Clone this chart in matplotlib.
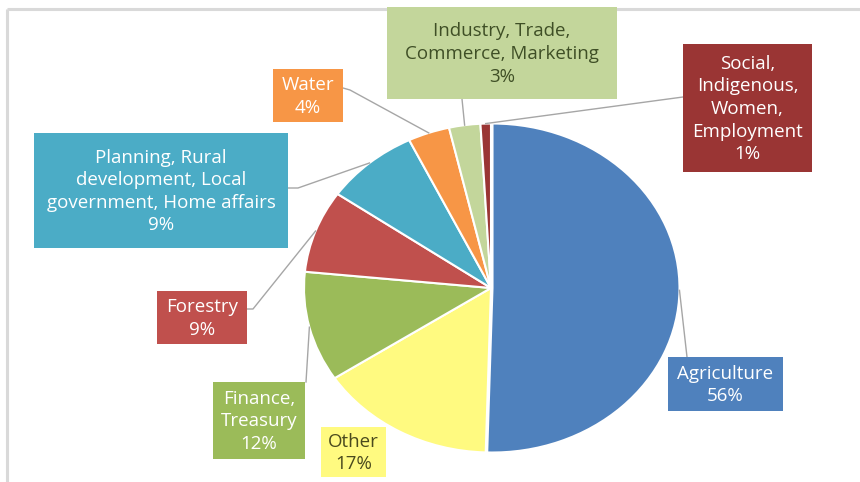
import math
import matplotlib
matplotlib.use("Agg")
import matplotlib.pyplot as plt
from matplotlib.patches import Rectangle

# sectors in the order they run clockwise from 12 o'clock
sectors = ["Agriculture", "Other", "Finance,\nTreasury", "Forestry",
           "Planning, Rural\ndevelopment, Local\ngovernment, Home affairs",
           "Water", "Industry, Trade,\nCommerce, Marketing",
           "Social,\nIndigenous,\nWomen,\nEmployment"]
# shares as printed on the labels (the pie normalises them)
shares = [56, 17, 12, 9, 9, 4, 3, 1]
colors = ["#4F81BD", "#FFFA80", "#9BBB59", "#C0504D", "#4BACC6",
          "#F79646", "#C3D69B", "#9A3534"]
text_colors = ["white", "#4A4A1E", "white", "white", "white",
               "white", "#3F4F26", "white"]

# --------------------------
# layout, in pixels with y measured from the top
W, H = 860, 482
cx, cy, rx, ry = 491, 288, 187, 164.5   # pie is a bit stretched sideways
pad = 1.1

# label boxes (x0, y0, x1, y1)
boxes = [(668, 357, 783, 411), (321, 427, 386, 477), (213, 382, 305, 459),
         (157, 291, 247, 344), (34, 133, 288, 248), (273, 69, 343, 122),
         (387, 7, 617, 99), (683, 44, 812, 172)]
# where each leader line leaves its box (None = no line)
leader_starts = [[(687, 357)], None, [(306, 382)], [(247, 309), (253, 309)],
                 [(288, 188), (298, 188)], [(343, 88), (350, 90)],
                 [(462, 99)], [(683, 97)]]

fig = plt.figure(figsize=(W / 100, H / 100), dpi=100)
fig.patch.set_facecolor("white")

ax_pie = fig.add_axes([(cx - pad * rx) / W, (H - cy - pad * ry) / H,
                       2 * pad * rx / W, 2 * pad * ry / H])
explode = [0.008] + [0] * (len(shares) - 1)
wedges, _ = ax_pie.pie(shares, colors=colors, startangle=90, counterclock=False,
                       explode=explode,
                       wedgeprops=dict(edgecolor="white", linewidth=1.5))
ax_pie.set_aspect("auto")
ax_pie.set_xlim(-pad, pad)
ax_pie.set_ylim(-pad, pad)
ax_pie.axis("off")

# overlay in pixel coordinates for boxes, text and leader lines
ax = fig.add_axes([0, 0, 1, 1])
ax.set_xlim(0, W)
ax.set_ylim(H, 0)
ax.axis("off")

# chart frame (only top and left edges visible)
ax.plot([7, W], [8.5, 8.5], color="#D9D9D9", lw=2.2, solid_capstyle="butt")
ax.plot([7, 7], [8.5, H], color="#D9D9D9", lw=2.2, solid_capstyle="butt")

to_px = ax.transData.inverted()
for i, w in enumerate(wedges):
    x0, y0, x1, y1 = boxes[i]
    ax.add_patch(Rectangle((x0, y0), x1 - x0, y1 - y0, facecolor=colors[i],
                           edgecolor="none", zorder=3))
    ax.text((x0 + x1) / 2, (y0 + y1) / 2 + 1, f"{sectors[i]}\n{shares[i]}%",
            ha="center", va="center", ma="center", fontsize=13.5,
            family="Open Sans", color=text_colors[i], linespacing=1.33, zorder=4)

    if leader_starts[i] is None:
        continue
    # leader ends on the rim at the wedge's middle angle
    a = math.radians((w.theta1 + w.theta2) / 2)
    rim = (w.center[0] + w.r * math.cos(a), w.center[1] + w.r * math.sin(a))
    end = to_px.transform(ax_pie.transData.transform(rim))
    pts = leader_starts[i] + [tuple(end)]
    ax.plot([p[0] for p in pts], [p[1] for p in pts], color="#A6A6A6",
            lw=1.0, zorder=2)

fig.savefig("out.png", dpi=100, facecolor="white")
